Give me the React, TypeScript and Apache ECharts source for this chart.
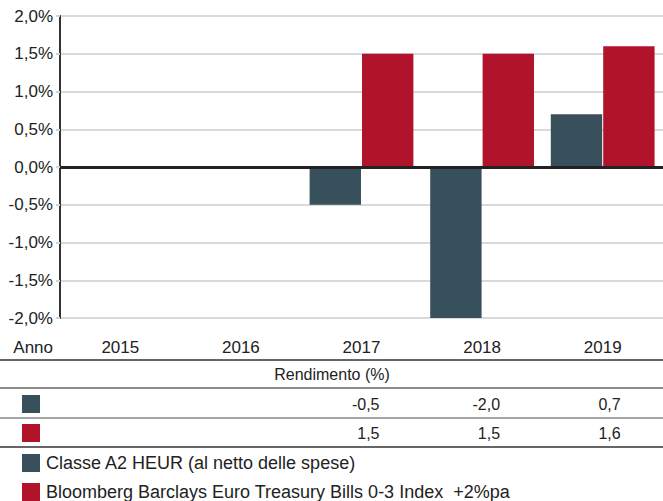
import React, { useEffect, useRef } from "react";
import * as echarts from "echarts";

const years = ["2015", "2016", "2017", "2018", "2019"];
const fundValues: (number | null)[] = [null, null, -0.5, -2.0, 0.7];
const benchValues: (number | null)[] = [null, null, 1.5, 1.5, 1.6];
const fundName = "Classe A2 HEUR (al netto delle spese)";
const benchName = "Bloomberg Barclays Euro Treasury Bills 0-3 Index  +2%pa";
const tableTitle = "Rendimento (%)";
const yearLabel = "Anno";

const FUND_COLOR = "#37505c";
const BENCH_COLOR = "#b0132a";
const FONT = "'Liberation Sans', Arial, Helvetica, sans-serif";
const TEXT = "#222";

const fmt = (v: number) => v.toFixed(1).replace(".", ",");

export default function App() {
  const ref = useRef<HTMLDivElement>(null);
  useEffect(() => {
    document.body.style.margin = "0";
    const chart = echarts.init(ref.current!, undefined, { renderer: "svg" });
    const W = 663;
    chart.setOption({
      animation: false,
      textStyle: { fontFamily: FONT },
      grid: { left: 60, width: 607, top: 16, height: 302, containLabel: false },
      xAxis: {
        type: "category",
        data: years,
        axisLine: { show: false, onZero: false },
        axisTick: { show: false },
        axisLabel: { color: TEXT, fontSize: 17, margin: 21, fontFamily: FONT },
      },
      yAxis: {
        type: "value",
        min: -2,
        max: 2,
        interval: 0.5,
        axisLine: { show: true, lineStyle: { color: "#333", width: 2 } },
        axisTick: { show: true, length: 4, lineStyle: { color: "#d4d4d4", width: 2 } },
        splitLine: { show: true, lineStyle: { color: "#d9d9d9", width: 2 } },
        axisLabel: {
          color: TEXT,
          fontSize: 17,
          margin: 7,
          fontFamily: FONT,
          formatter: (v: number) => fmt(v) + "%",
        },
      },
      series: [
        {
          name: fundName,
          type: "bar",
          data: fundValues,
          barWidth: "42.6%",
          barGap: "2%",
          itemStyle: { color: FUND_COLOR },
          markLine: {
            silent: true,
            symbol: "none",
            label: { show: false },
            lineStyle: { color: "#222", width: 3, type: "solid" },
            data: [{ yAxis: 0 }],
          },
        },
        {
          name: benchName,
          type: "bar",
          data: benchValues,
          barWidth: "42.6%",
          barGap: "2%",
          itemStyle: { color: BENCH_COLOR },
        },
      ],
    });

    const graphics: any[] = [];
    const line = (y: number, color: string, width = 1.5) =>
      graphics.push({
        type: "line",
        shape: { x1: 0, y1: y, x2: W, y2: y },
        style: { stroke: color, lineWidth: width },
      });
    const text = (x: number, y: number, t: string, size: number, align: string = "left") =>
      graphics.push({
        type: "text",
        x,
        y,
        style: {
          text: t,
          fill: TEXT,
          font: `${size}px ${FONT}`,
          textAlign: align,
          textVerticalAlign: "middle",
        },
      });
    const square = (y: number, color: string) =>
      graphics.push({
        type: "rect",
        shape: { x: 22, y: y - 9, width: 18, height: 18 },
        style: { fill: color },
      });

    text(53, 347, yearLabel, 17, "right");
    line(360, "#333");
    text(332, 374, tableTitle, 16, "center");
    line(388, "#666");
    square(404, FUND_COLOR);
    line(418, "#888");
    square(433, BENCH_COLOR);
    line(447, "#333");

    years.forEach((yr, i) => {
      const cx = chart.convertToPixel({ xAxisIndex: 0 }, yr) as number;
      const f = fundValues[i];
      const b = benchValues[i];
      if (f != null) text(cx + 18, 404, fmt(f), 16, "right");
      if (b != null) text(cx + 18, 433, fmt(b), 16, "right");
    });

    square(463, FUND_COLOR);
    text(46, 463, fundName, 18);
    square(492, BENCH_COLOR);
    text(46, 492, benchName, 18);

    chart.setOption({ graphic: graphics });
    return () => chart.dispose();
  }, []);
  return <div ref={ref} style={{ width: 663, height: 501 }} />;
}
